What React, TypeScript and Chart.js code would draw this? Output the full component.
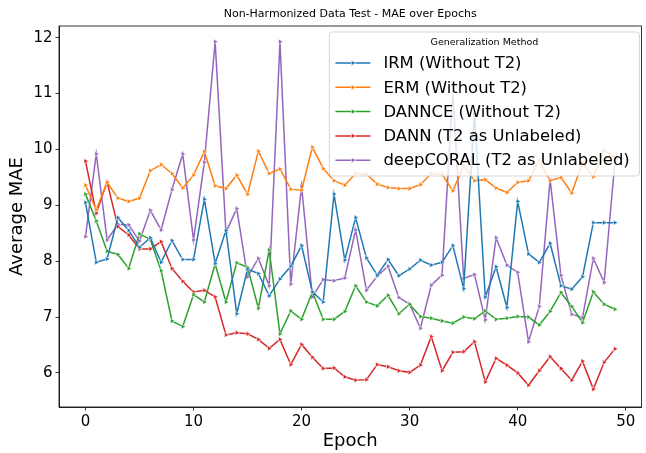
import React, { useEffect, useRef } from "react";
import { Chart, registerables } from "chart.js";

Chart.register(...registerables);

const chartTitle = "Non-Harmonized Data Test - MAE over Epochs";
const legendTitle = "Generalization Method";
const xAxisLabel = "Epoch";
const yAxisLabel = "Average MAE";

const epochs = Array.from({ length: 50 }, (_, i) => i);

const irmValues = [
  9.05, 7.98, 8.04, 8.78, 8.55, 8.25, 8.42, 7.98, 8.37, 8.03,
  8.03, 9.11, 7.96, 8.55, 7.06, 7.86, 7.78, 7.38, 7.68, 7.91,
  8.28, 7.45, 7.27, 9.2, 8.02, 8.78, 8.06, 7.75, 8.03, 7.74,
  7.86, 8.02, 7.93, 7.98, 8.28, 7.51, 10.65, 7.36, 7.9, 7.17,
  9.07, 8.13, 7.98, 8.32, 7.56, 7.5, 7.72, 8.69, 8.69, 8.69,
];
const ermValues = [
  9.36, 8.92, 9.41, 9.13, 9.07, 9.13, 9.62, 9.73, 9.57, 9.31,
  9.54, 9.96, 9.35, 9.3, 9.54, 9.2, 9.97, 9.57, 9.65, 9.29,
  9.27, 10.04, 9.66, 9.44, 9.36, 9.57, 9.56, 9.38, 9.32, 9.3,
  9.3, 9.37, 9.57, 9.56, 9.26, 9.71, 9.44, 9.46, 9.31, 9.23,
  9.41, 9.44, 9.81, 9.44, 9.5, 9.22, 9.77, 9.51, 9.98, 9.85,
];
const dannceValues = [
  9.2, 8.72, 8.18, 8.12, 7.87, 8.49, 8.39, 7.83, 6.93, 6.83,
  7.4, 7.27, 7.95, 7.27, 7.97, 7.89, 7.16, 8.2, 6.7, 7.11,
  6.96, 7.45, 6.96, 6.96, 7.1, 7.56, 7.27, 7.2, 7.39, 7.06,
  7.23, 7.01, 6.98, 6.93, 6.89, 7.0, 6.97, 7.11, 6.96, 6.98,
  7.01, 7.0, 6.86, 7.1, 7.44, 7.19, 6.9, 7.45, 7.23, 7.14,
];
const dannValues = [
  9.79, 8.86, 9.42, 8.62, 8.47, 8.22, 8.22, 8.35, 7.87, 7.64,
  7.45, 7.48, 7.36, 6.68, 6.72, 6.7, 6.6, 6.44, 6.6, 6.15,
  6.51, 6.28, 6.08, 6.09, 5.93, 5.87, 5.88, 6.15, 6.11, 6.04,
  6.01, 6.14, 6.65, 6.04, 6.37, 6.38, 6.56, 5.84, 6.26, 6.14,
  6.0, 5.78, 6.04, 6.29, 6.08, 5.87, 6.21, 5.71, 6.19, 6.43,
];
const deepCoralValues = [
  8.44, 9.92, 8.38, 8.66, 8.65, 8.36, 8.91, 8.56, 9.28, 9.92,
  8.38, 9.77, 11.93, 8.52, 8.94, 7.72, 8.05, 7.56, 11.93, 7.59,
  9.34, 7.36, 7.67, 7.65, 7.7, 8.56, 7.48, 7.73, 7.91, 7.35,
  7.23, 6.8, 7.57, 7.75, 11.03, 7.69, 7.76, 6.95, 8.42, 7.93,
  7.8, 6.56, 7.19, 9.46, 7.75, 7.05, 6.99, 8.05, 7.62, 9.78,
];

const seriesLabels = [
  "IRM (Without T2)",
  "ERM (Without T2)",
  "DANNCE (Without T2)",
  "DANN (T2 as Unlabeled)",
  "deepCORAL (T2 as Unlabeled)",
];
const seriesValues = [irmValues, ermValues, dannceValues, dannValues, deepCoralValues];
const seriesColors = ["#1f77b4", "#ff7f0e", "#2ca02c", "#d62728", "#9467bd"];

const xTickLabels = ["0", "10", "20", "30", "40", "50"];
const yTickLabels = ["6", "7", "8", "9", "10", "11", "12"];

const FONT = "'DejaVu Sans', 'Liberation Sans', sans-serif";

function drawTriangleRight(ctx: CanvasRenderingContext2D, x: number, y: number, r: number, color: string) {
  ctx.beginPath();
  for (let k = 0; k < 3; k++) {
    const a = Math.PI / 2 + (k * 2 * Math.PI) / 3;
    const px = x + Math.sin(a) * r;
    const py = y - Math.cos(a) * r;
    if (k === 0) ctx.moveTo(px, py);
    else ctx.lineTo(px, py);
  }
  ctx.closePath();
  ctx.fillStyle = color;
  ctx.fill();
  ctx.strokeStyle = "#ffffff";
  ctx.lineWidth = 0.6;
  ctx.stroke();
}

const framePlugin = {
  id: "frameAndLegend",
  afterDraw(chart: any) {
    const { ctx, chartArea } = chart;
    ctx.save();
    ctx.strokeStyle = "#000000";
    ctx.lineWidth = 0.8;
    ctx.strokeRect(chartArea.left, chartArea.top, chartArea.right - chartArea.left, chartArea.bottom - chartArea.top);

    const bw = 310;
    const bx = chartArea.right - 2 - bw;
    const by = chartArea.top + 6;
    const bh = 144;
    const rad = 3;
    ctx.beginPath();
    ctx.moveTo(bx + rad, by);
    ctx.lineTo(bx + bw - rad, by);
    ctx.arcTo(bx + bw, by, bx + bw, by + rad, rad);
    ctx.lineTo(bx + bw, by + bh - rad);
    ctx.arcTo(bx + bw, by + bh, bx + bw - rad, by + bh, rad);
    ctx.lineTo(bx + rad, by + bh);
    ctx.arcTo(bx, by + bh, bx, by + bh - rad, rad);
    ctx.lineTo(bx, by + rad);
    ctx.arcTo(bx, by, bx + rad, by, rad);
    ctx.closePath();
    ctx.fillStyle = "rgba(255,255,255,0.8)";
    ctx.fill();
    ctx.strokeStyle = "rgba(204,204,204,0.8)";
    ctx.lineWidth = 1;
    ctx.stroke();

    ctx.fillStyle = "#000000";
    ctx.font = `9.5px ${FONT}`;
    ctx.textAlign = "center";
    ctx.textBaseline = "middle";
    ctx.fillText(legendTitle, bx + bw / 2, by + 11);

    const datasets = chart.data.datasets;
    datasets.forEach((ds: any, i: number) => {
      const ey = by + 31 + i * 24.3;
      const lx0 = bx + 6;
      const lx1 = bx + 41;
      ctx.beginPath();
      ctx.moveTo(lx0, ey);
      ctx.lineTo(lx1, ey);
      ctx.strokeStyle = ds.borderColor;
      ctx.lineWidth = 1.5;
      ctx.stroke();
      drawTriangleRight(ctx, (lx0 + lx1) / 2, ey, 3, ds.borderColor);
      ctx.fillStyle = "#000000";
      ctx.font = `16.4px ${FONT}`;
      ctx.textAlign = "left";
      ctx.textBaseline = "middle";
      ctx.fillText(ds.label, bx + 54, ey + 1);
    });
    ctx.restore();
  },
};

export default function App() {
  const canvasRef = useRef<HTMLCanvasElement | null>(null);

  useEffect(() => {
    const canvas = canvasRef.current;
    if (!canvas) return;
    Chart.defaults.font.family = FONT;
    const datasets = seriesLabels.map((label, s) => ({
      label,
      data: epochs.map((e, i) => ({ x: e, y: seriesValues[s][i] })),
      borderColor: seriesColors[s],
      backgroundColor: seriesColors[s],
      borderWidth: 1.5,
      pointStyle: "triangle" as const,
      pointRotation: 90,
      pointRadius: 3,
      pointBackgroundColor: seriesColors[s],
      pointBorderColor: "#ffffff",
      pointBorderWidth: 0.6,
      tension: 0,
      fill: false,
    }));

    const chart = new Chart(canvas, {
      type: "line",
      data: { datasets },
      options: {
        animation: false,
        responsive: false,
        devicePixelRatio: 1,
        layout: { padding: { left: 0, right: 0.5, top: 0, bottom: 0 } },
        plugins: {
          legend: { display: false },
          tooltip: { enabled: false },
          title: {
            display: true,
            text: chartTitle,
            fullSize: false,
            color: "#000000",
            font: { size: 11, weight: "normal", family: FONT },
            padding: { top: 8, bottom: 4.8 },
          },
        },
        scales: {
          x: {
            type: "linear",
            min: -2.45,
            max: 51.45,
            afterFit: (scale: any) => {
              scale.height = 46;
            },
            ticks: {
              stepSize: 10,
              includeBounds: false,
              color: "#000000",
              font: { size: 15 },
              padding: 3,
              maxRotation: 0,
              callback: (v: any) => {
                const s = String(v);
                return xTickLabels.includes(s) ? s : "";
              },
            },
            grid: {
              display: true,
              drawOnChartArea: false,
              drawTicks: true,
              tickLength: 3.5,
              color: "#000000",
              lineWidth: 0.8,
            },
            border: { display: true, color: "#000000", width: 0.8 },
            title: {
              display: true,
              text: xAxisLabel,
              color: "#000000",
              font: { size: 18 },
              padding: { top: 0, bottom: 1 },
            },
          },
          y: {
            type: "linear",
            min: 5.39,
            max: 12.21,
            afterFit: (scale: any) => {
              scale.width = 59;
            },
            ticks: {
              stepSize: 1,
              includeBounds: false,
              color: "#000000",
              font: { size: 15 },
              padding: 3,
              callback: (v: any) => {
                const s = String(v);
                return yTickLabels.includes(s) ? s : "";
              },
            },
            grid: {
              display: true,
              drawOnChartArea: false,
              drawTicks: true,
              tickLength: 3.5,
              color: "#000000",
              lineWidth: 0.8,
            },
            border: { display: true, color: "#000000", width: 0.8 },
            title: {
              display: true,
              text: yAxisLabel,
              color: "#000000",
              font: { size: 18 },
              padding: { top: 7, bottom: 0 },
            },
          },
        },
      },
      plugins: [framePlugin],
    });
    return () => chart.destroy();
  }, []);

  return (
    <div style={{ position: "absolute", left: 0, top: 0, width: 646, height: 453, background: "#ffffff" }}>
      <canvas ref={canvasRef} width={646} height={453} style={{ display: "block" }} />
    </div>
  );
}
